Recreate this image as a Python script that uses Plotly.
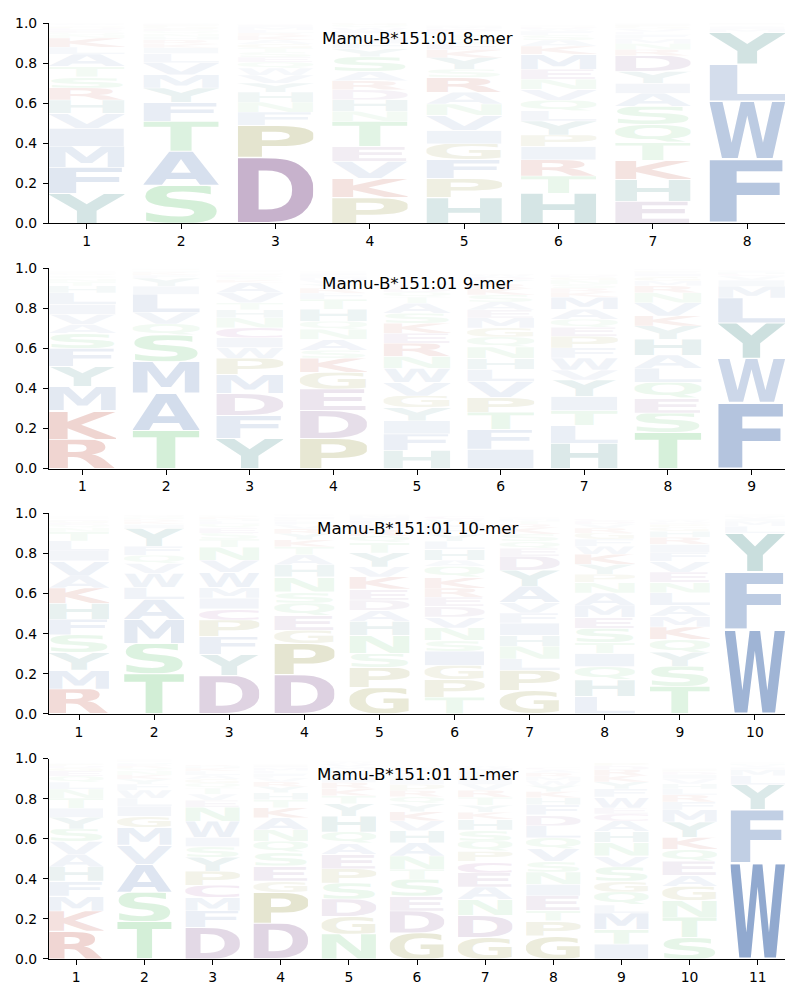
import base64
import plotly.graph_objects as go
from plotly.subplots import make_subplots

ALLELE = "Mamu-B*151:01"
LENGTHS = [8, 9, 10, 11]

# Letters at each position, listed bottom -> top, with their probabilities
MER8_LETTERS = [
    "YFMIVHRSTALKNQEDPGWC", "SATFYMVLIKRHNQEGPDWC", "DPFNHYVWQESTGAKRLMIC",
    "PKVETNHDRASYFMLIWQGC", "HPFGIVNARSYKEQTLDMWC", "HTRIPYLQVNEMKASFWDGC",
    "EHKTQSAIYDRNMFLVGPWC", "FWLYMIVHAC",
]
MER8_PROBS = [
    [.15, .13, .105, .09, .075, .066, .06, .056, .05, .063, .035, .045, .015, .012, .012, .01, .008, .008, .006, .004],
    [.19, .17, .15, .095, .071, .066, .06, .045, .03, .02, .02, .015, .015, .012, .012, .01, .01, .005, .004, .003],
    [.33, .16, .065, .05, .05, .045, .04, .035, .03, .025, .025, .02, .02, .02, .02, .015, .015, .015, .01, .005],
    [.128, .095, .086, .075, .125, .05, .058, .05, .045, .045, .075, .04, .03, .025, .02, .015, .015, .012, .01, .008],
    [.128, .096, .095, .078, .066, .075, .058, .058, .075, .04, .058, .04, .03, .025, .02, .015, .015, .01, .005, .003],
    [.15, .087, .08, .066, .058, .07, .05, .053, .055, .05, .05, .075, .04, .03, .025, .02, .01, .01, .005, .003],
    [.11, .108, .095, .09, .09, .09, .066, .05, .058, .08, .03, .03, .025, .02, .015, .015, .01, .01, .005, .003],
    [.32, .29, .185, .16, .015, .01, .008, .005, .004, .003],
]

MER9_LETTERS = [
    "RKMYFSAVILHTNQEGDPWC", "TAMSQVLIYFKRNGHEDPWC", "YFDMPWICNHTVAKSEGLRQ",
    "PDEGKSANQHTFRYVMLIWC", "HFIYGVWNREKSATQDLMPC", "IFTPVLHNQGMEASKRYDWC",
    "HLTIYVWFPEQAMKRSNGDC", "TSEQLAHYKVNRMGIFPDWC", "FWYLMIVCHATSQ",
]
MER9_PROBS = [
    [.146, .143, .12, .1, .09, .075, .045, .05, .05, .058, .035, .02, .015, .01, .008, .006, .005, .004, .003, .002],
    [.19, .187, .157, .133, .055, .058, .09, .04, .04, .015, .01, .008, .007, .005, .005, .004, .003, .003, .002, .001],
    [.15, .116, .108, .096, .08, .053, .05, .05, .05, .04, .035, .05, .05, .015, .012, .01, .008, .006, .005, .004],
    [.15, .14, .107, .083, .07, .04, .055, .05, .04, .06, .05, .03, .025, .02, .02, .015, .01, .01, .005, .005],
    [.09, .083, .066, .066, .058, .066, .07, .06, .066, .05, .05, .05, .05, .03, .025, .02, .015, .01, .008, .005],
    [.097, .097, .087, .075, .078, .06, .055, .058, .05, .045, .05, .04, .04, .035, .03, .025, .02, .015, .01, .005],
    [.126, .088, .075, .07, .083, .05, .06, .05, .058, .045, .04, .05, .06, .025, .02, .02, .02, .015, .01, .005],
    [.18, .097, .075, .078, .07, .066, .08, .066, .05, .066, .05, .035, .025, .02, .015, .01, .008, .005, .003, .002],
    [.33, .22, .177, .125, .058, .03, .02, .01, .01, .008, .005, .004, .003],
]

MER10_LETTERS = [
    "RMYSFHKAVILTNQEGDPWC", "TSMALWVQFYIKRNGHEDPC", "DYFPCIMWVNTSEQLHKGRA",
    "DPGEQSNHATKYRVFLIMWC", "GPSNHADEKVYTQRFLIMWC", "TPGISNVDERKQAHLYFMWC",
    "GPLNHIFVAYDEQSKRTMWC", "LHQITSEMANPYKWFGRVDC", "TSYQKMALNEVFIRHGPDWC",
    "WFYLMIVHCA",
]
MER10_PROBS = [
    [.124, .095, .087, .088, .078, .078, .078, .06, .075, .05, .05, .045, .02, .015, .01, .01, .008, .005, .004, .003],
    [.2, .15, .12, .1, .06, .07, .05, .04, .045, .09, .02, .015, .01, .01, .008, .007, .005, .003, .003, .002],
    [.19, .105, .09, .083, .055, .055, .053, .075, .06, .065, .04, .03, .025, .02, .015, .01, .01, .008, .005, .005],
    [.195, .155, .067, .075, .061, .056, .075, .06, .05, .04, .035, .03, .025, .02, .015, .01, .01, .008, .005, .003],
    [.13, .1, .07, .09, .07, .055, .053, .055, .06, .05, .07, .05, .035, .03, .025, .02, .015, .01, .005, .003],
    [.083, .088, .07, .072, .053, .063, .055, .053, .045, .045, .053, .055, .03, .055, .04, .035, .03, .025, .02, .015],
    [.116, .1, .058, .063, .055, .061, .05, .053, .08, .08, .07, .04, .035, .035, .03, .02, .015, .01, .005, .005],
    [.086, .083, .066, .066, .055, .07, .055, .061, .061, .053, .04, .05, .05, .04, .035, .03, .025, .02, .015, .01],
    [.137, .1, .07, .063, .063, .055, .053, .063, .053, .05, .053, .045, .04, .035, .03, .02, .015, .01, .01, .005],
    [.42, .29, .19, .035, .025, .012, .01, .006, .004, .003],
]

MER11_LETTERS = [
    "RKMFHAVSYITNLQEGDPWC", "TSAVMGILWFYKNQREHDPC", "DFMCPYSIWNEVTQGALKHR",
    "DPGESQNAKTHYRVFLMIWC", "NGDSPEAQHYTKRIFLMVWC", "GDESTNAHVKYQRPILFMWC",
    "GDNAECPQSHKYTRVIFLMW", "GPTEINSVQLDFHKYWMRAC", "ITMLQGSVNHACEWFYKRDP",
    "STNGAEQKYMFRLHVIDPWC", "WFYLMIVHCA",
]
MER11_PROBS = [
    [.14, .1, .075, .075, .07, .063, .063, .063, .058, .046, .05, .045, .035, .03, .025, .015, .01, .01, .005, .003],
    [.187, .146, .14, .096, .088, .056, .05, .04, .04, .03, .025, .02, .02, .015, .01, .01, .008, .006, .005, .004],
    [.158, .083, .066, .061, .07, .07, .053, .046, .08, .07, .035, .03, .03, .025, .02, .02, .02, .015, .01, .008],
    [.178, .156, .055, .076, .066, .056, .058, .06, .05, .04, .035, .03, .025, .02, .02, .015, .015, .01, .005, .005],
    [.125, .088, .086, .08, .071, .073, .055, .056, .078, .063, .04, .035, .03, .025, .02, .02, .015, .015, .01, .005],
    [.13, .11, .075, .083, .05, .066, .066, .06, .05, .045, .04, .035, .03, .03, .025, .02, .015, .015, .01, .005],
    [.108, .108, .08, .063, .071, .056, .05, .053, .055, .053, .035, .035, .04, .035, .03, .025, .02, .02, .015, .01],
    [.116, .075, .053, .071, .058, .061, .053, .063, .055, .06, .055, .05, .035, .03, .03, .025, .02, .02, .015, .01],
    [.075, .071, .083, .04, .066, .055, .07, .055, .066, .055, .053, .035, .03, .055, .04, .035, .03, .03, .02, .015],
    [.108, .1, .083, .071, .056, .07, .06, .058, .078, .06, .04, .035, .03, .025, .025, .02, .015, .01, .005, .003],
    [.48, .265, .125, .045, .03, .012, .01, .008, .005, .005],
]

PANELS = [
    (MER8_LETTERS, MER8_PROBS),
    (MER9_LETTERS, MER9_PROBS),
    (MER10_LETTERS, MER10_PROBS),
    (MER11_LETTERS, MER11_PROBS),
]

# Amino-acid colour groups (base colours; alpha follows probability)
GROUP_COLORS = {
    "AVLIMFW": "rgb(128,156,200)",
    "C": "rgb(160,80,160)",
    "DE": "rgb(160,126,170)",
    "KR": "rgb(196,96,82)",
    "HY": "rgb(100,160,158)",
    "STNQ": "rgb(130,208,142)",
    "GP": "rgb(165,165,92)",
}
AA_COLOR = {aa: c for grp, c in GROUP_COLORS.items() for aa in grp}
ALPHA_GAIN = 1.8
GLYPH_WIDTH = 0.8
VPAD = 0.03

# approximate side bearings (fraction of advance) of DejaVu Sans Bold capitals
BEARINGS = {
    "A": (.01, .01), "C": (.075, .075), "D": (.108, .067), "E": (.132, .092),
    "F": (.132, .097), "G": (.067, .076), "H": (.108, .108), "I": (.243, .243),
    "K": (.116, .0), "L": (.142, .05), "M": (.091, .091), "N": (.108, .108),
    "P": (.123, .069), "Q": (.065, .065), "R": (.116, .011), "S": (.077, .077),
    "T": (.004, .004), "V": (.013, .013), "W": (.029, .029), "Y": (.0, .0),
}

_cache = {}


def glyph_uri(ch):
    if ch in _cache:
        return _cache[ch]
    lsb, rsb = BEARINGS.get(ch, (.05, .05))
    x0 = lsb * 100
    w = (1 - lsb - rsb) * 100
    cap = 72.9
    h = cap + (17 if ch == "Q" else 0)
    svg = (
        f'<svg xmlns="http://www.w3.org/2000/svg" viewBox="{x0:.2f} 0 {w:.2f} {h:.2f}" '
        f'width="{w:.2f}" height="{h:.2f}" preserveAspectRatio="none">'
        f'<text x="0" y="{cap}" font-family="DejaVu Sans" font-weight="bold" font-size="100" '
        f'textLength="100" lengthAdjust="spacingAndGlyphs" fill="{AA_COLOR[ch]}">{ch}</text></svg>'
    )
    uri = "data:image/svg+xml;base64," + base64.b64encode(svg.encode()).decode()
    _cache[ch] = uri
    return uri


fig = make_subplots(rows=4, cols=1, vertical_spacing=45 / 940)
images = []
FONT = "DejaVu Sans"

for i, (letters, probs) in enumerate(PANELS):
    row = i + 1
    n = LENGTHS[i]
    sfx = "" if row == 1 else str(row)
    bx, by, bbase, btxt = [], [], [], []
    for pos, (lets, vals) in enumerate(zip(letters, probs), start=1):
        bottom = 0.0
        for ch, p in zip(lets, vals):
            if p > 0:
                images.append(dict(
                    source=glyph_uri(ch), xref="x" + sfx, yref="y" + sfx,
                    x=pos - GLYPH_WIDTH / 2, y=bottom + p * (1 - VPAD / 2),
                    sizex=GLYPH_WIDTH, sizey=p * (1 - VPAD),
                    xanchor="left", yanchor="top", sizing="stretch",
                    opacity=min(1.0, p * ALPHA_GAIN), layer="above",
                ))
                bx.append(pos)
                by.append(p)
                bbase.append(bottom)
                btxt.append(f"{ch}: {p:.3f}")
            bottom += p
    fig.add_trace(go.Bar(x=bx, y=by, base=bbase, width=GLYPH_WIDTH, hovertext=btxt,
                         hoverinfo="text", marker=dict(color="rgba(0,0,0,0)", line=dict(width=0)),
                         showlegend=False), row=row, col=1)
    fig.update_xaxes(range=[0.6, n + 0.4], tickvals=list(range(1, n + 1)), row=row, col=1)
    fig.add_annotation(text=f"{ALLELE} {n}-mer", xref="x" + sfx + " domain", yref="y" + sfx + " domain",
                       x=0.5, y=0.925, xanchor="center", yanchor="middle", showarrow=False,
                       font=dict(family=FONT, size=16.7, color="black"))

fig.update_xaxes(showline=True, linecolor="black", linewidth=1.1, ticks="outside", ticklen=5,
                 tickwidth=1.1, tickcolor="black", showgrid=False, zeroline=False,
                 tickfont=dict(family=FONT, size=13.9, color="black"))
fig.update_yaxes(range=[0, 1], tickvals=[0, .2, .4, .6, .8, 1.0], tickformat=".1f",
                 showline=True, linecolor="black", linewidth=1.1, ticks="outside", ticklen=5,
                 tickwidth=1.1, tickcolor="black", showgrid=False, zeroline=False,
                 ticklabelstandoff=3,
                 tickfont=dict(family=FONT, size=13.9, color="black"))
# the page body adds an 8px margin, so the figure is sized to fit inside it
fig.update_layout(images=images, width=784, height=984, barmode="overlay",
                  margin=dict(l=39, r=7, t=13, b=31),
                  plot_bgcolor="white", paper_bgcolor="white",
                  font=dict(family=FONT, color="black"))
fig.write_html("out.html")
